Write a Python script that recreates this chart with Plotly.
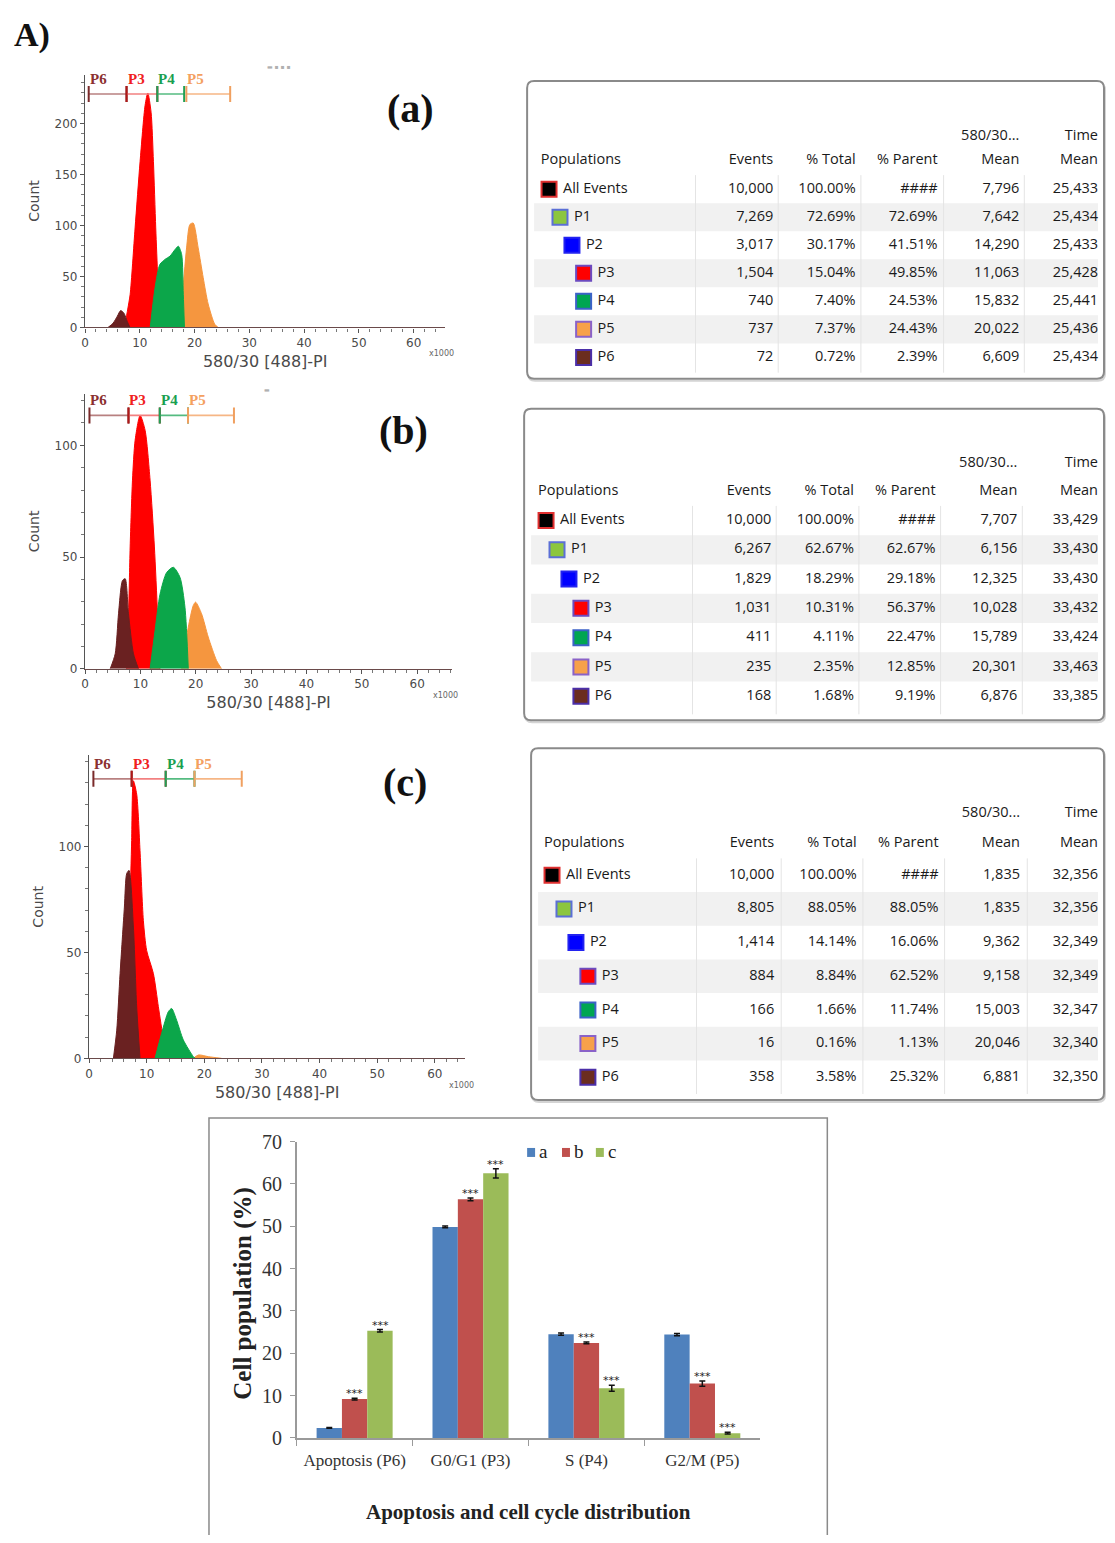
import plotly.graph_objects as go

# Figure size and the measured placement of the figure inside the photographed page
# (vertical: page_y = OY + SY * figure_y ; horizontal: page_x = OX + figure_x).
W, H = 1099, 1527
OX, OY, SY = 10.0, 18.0, 0.9865


def X(px):
    return min(1.0, max(0.0, (px - OX) / W))


def Y(py):
    return min(1.0, max(0.0, 1 - ((py - OY) / SY) / H))


# ------------------------------------------------------------------ data
gate_names = ["P6", "P3", "P4", "P5"]

# histogram (a): PI channel (x1000) vs count, one list pair per gate
a_p6_x = [4.2, 5.1, 5.9, 6.5, 7.1, 7.7, 8.2]
a_p6_y = [0, 4, 11, 16.5, 14, 6, 0]
a_p3_x = [7.2, 7.8, 8.24, 9.14, 10.05, 10.97, 11.46, 12.06, 12.49, 12.91, 13.27, 13.57]
a_p3_y = [0, 18, 32.5, 97.6, 162.6, 218, 230, 211, 162.6, 97.6, 48.8, 0]
a_p4_x = [11.9, 12.79, 13.66, 14.6, 15.52, 16.43, 17.03, 17.64, 17.94, 18.15]
a_p4_y = [0, 39, 61.8, 66.7, 70, 76.4, 79.7, 71.6, 32.5, 0]
a_p5_x = [16.69, 17.64, 18.54, 19.15, 19.75, 20.66, 21.57, 22.48, 23.69, 24.3]
a_p5_y = [0, 26, 78, 101, 102.4, 78, 49, 23, 3, 0]
gates_a = [(0.67, 7.58), (7.58, 13.2), (13.2, 18.1), (18.5, 26.5)]
gate_level_a = 229

# histogram (b)
b_p6_x = [4.55, 5.45, 6.05, 6.77, 7.25, 7.85, 8.75, 9.65]
b_p6_y = [0, 6.7, 24.6, 39.5, 40.3, 24.6, 6.7, 0]
b_p3_x = [7.5, 7.85, 8.15, 8.57, 9.05, 9.95, 10.85, 11.75, 12.53, 13.1, 13.55]
b_p3_y = [0, 22.6, 54.5, 84.4, 102.3, 113.4, 106.7, 84.4, 54.5, 24.6, 0]
b_p4_x = [11.75, 12.65, 13.55, 14.75, 15.95, 17.15, 18.05, 18.65]
b_p4_y = [0, 17.1, 33.4, 43.1, 45.4, 40.9, 27.5, 0]
b_p5_x = [17.45, 18.65, 19.55, 19.97, 21.05, 22.25, 23.75, 24.65]
b_p5_y = [0, 18.6, 28.3, 29.8, 24.6, 14.2, 3.7, 0]
gates_b = [(0.8, 7.85), (7.85, 13.5), (13.5, 18.6), (18.6, 26.9)]
gate_level_b = 113.4

# histogram (c)
c_p6_x = [4.23, 4.81, 5.39, 6.14, 6.54, 6.94, 7.7, 8.27, 8.85]
c_p6_y = [0, 13.3, 40, 71.4, 87.2, 88.7, 62, 24.4, 0]
c_p3_x = [6.8, 7.13, 7.4, 7.69, 8.27, 8.85, 9.43, 10.0, 11.17, 12.03, 12.9, 13.3]
c_p3_y = [0, 71.4, 102.8, 131, 124.7, 98, 65, 50.9, 40, 24.4, 8.7, 0]
c_p4_x = [11.45, 12.6, 13.76, 14.34, 15.2, 16.36, 18.1, 18.4]
c_p4_y = [0, 11.8, 22, 23.5, 18, 8.7, 0.8, 0]
c_p5_x = [18.1, 19.0, 20.7, 23.0]
c_p5_y = [0, 1.6, 0.8, 0]
gates_c = [(0.76, 7.4), (7.4, 13.3), (13.3, 18.3), (18.3, 26.5)]
gate_level_c = 131.9

# population statistics tables
populations = ["All Events", "P1", "P2", "P3", "P4", "P5", "P6"]
table_headers_1 = ["", "", "", "", "580/30...", "Time"]
table_headers_2 = ["Populations", "Events", "% Total", "% Parent", "Mean", "Mean"]

events_a = ["10,000", "7,269", "3,017", "1,504", "740", "737", "72"]
total_a = ["100.00%", "72.69%", "30.17%", "15.04%", "7.40%", "7.37%", "0.72%"]
parent_a = ["####", "72.69%", "41.51%", "49.85%", "24.53%", "24.43%", "2.39%"]
mean_a = ["7,796", "7,642", "14,290", "11,063", "15,832", "20,022", "6,609"]
time_a = ["25,433", "25,434", "25,433", "25,428", "25,441", "25,436", "25,434"]

events_b = ["10,000", "6,267", "1,829", "1,031", "411", "235", "168"]
total_b = ["100.00%", "62.67%", "18.29%", "10.31%", "4.11%", "2.35%", "1.68%"]
parent_b = ["####", "62.67%", "29.18%", "56.37%", "22.47%", "12.85%", "9.19%"]
mean_b = ["7,707", "6,156", "12,325", "10,028", "15,789", "20,301", "6,876"]
time_b = ["33,429", "33,430", "33,430", "33,432", "33,424", "33,463", "33,385"]

events_c = ["10,000", "8,805", "1,414", "884", "166", "16", "358"]
total_c = ["100.00%", "88.05%", "14.14%", "8.84%", "1.66%", "0.16%", "3.58%"]
parent_c = ["####", "88.05%", "16.06%", "62.52%", "11.74%", "1.13%", "25.32%"]
mean_c = ["1,835", "1,835", "9,362", "9,158", "15,003", "20,046", "6,881"]
time_c = ["32,356", "32,356", "32,349", "32,349", "32,347", "32,340", "32,350"]

# bar chart
categories = ["Apoptosis (P6)", "G0/G1 (P3)", "S (P4)", "G2/M (P5)"]
series_names = ["a", "b", "c"]
a_vals = [2.39, 49.85, 24.53, 24.43]
b_vals = [9.19, 56.37, 22.47, 12.85]
c_vals = [25.32, 62.52, 11.74, 1.13]
a_err = [0.1, 0.2, 0.25, 0.25]
b_err = [0.2, 0.3, 0.2, 0.6]
c_err = [0.3, 1.1, 0.7, 0.2]
b_sig = ["***", "***", "***", "***"]
c_sig = ["***", "***", "***", "***"]

# ------------------------------------------------------------------ styles
hist_fill = {"P6": "#6A2121", "P3": "#FF0000", "P4": "#0CA64A", "P5": "#F5963F"}
gate_line = {"P6": "#B88080", "P3": "#F28080", "P4": "#55BB80", "P5": "#F6B685"}
gate_mark = {"P6": "#7A2A2A", "P3": "#B01818", "P4": "#20A055", "P5": "#F0A060"}
gate_text = {"P6": "#8B3030", "P3": "#F02020", "P4": "#1AA050", "P5": "#F4A060"}
draw_order = ["P5", "P3", "P4", "P6"]

swatch_fill = ["#000000", "#8CC63F", "#0000FF", "#FF0000", "#00A651", "#F7A14A", "#6B2D1F"]
swatch_line = ["#E03030", "#5B6FD6", "#2323F0", "#6C4BC0", "#3C62C8", "#8A62C8", "#4B2FA8"]
indent = [0, 1, 2, 3, 3, 3, 3]
bar_colors = ["#4F81BD", "#C0504D", "#9BBB59"]

SANS = "DejaVu Sans"
SERIF = "Liberation Serif"
TFONT = "Open Sans"

fig = go.Figure()
shapes = []
annotations = []

# ------------------------------------------------------------------ histograms
hist_data = {
    1: {"P6": (a_p6_x, a_p6_y), "P3": (a_p3_x, a_p3_y), "P4": (a_p4_x, a_p4_y), "P5": (a_p5_x, a_p5_y)},
    2: {"P6": (b_p6_x, b_p6_y), "P3": (b_p3_x, b_p3_y), "P4": (b_p4_x, b_p4_y), "P5": (b_p5_x, b_p5_y)},
    3: {"P6": (c_p6_x, c_p6_y), "P3": (c_p3_x, c_p3_y), "P4": (c_p4_x, c_p4_y), "P5": (c_p5_x, c_p5_y)},
}
hist_gates = {1: (gates_a, gate_level_a), 2: (gates_b, gate_level_b), 3: (gates_c, gate_level_c)}
hist_geom = {
    1: dict(xdom=(83.3, 445), ydom=(73.7, 326.7), xr=65.8, yr=248, lab="(a)", labpos=(410, 108),
            k=(441, 353)),
    2: dict(xdom=(83.3, 451.7), ydom=(393.3, 668.3), xr=66.3, yr=123, lab="(b)", labpos=(403, 430),
            k=(445, 695)),
    3: dict(xdom=(87.3, 465), ydom=(755, 1058.3), xr=65.3, yr=143, lab="(c)", labpos=(404, 782),
            k=(461, 1085)),
}

layout_axes = {}
for n in (1, 2, 3):
    xn = "x" if n == 1 else f"x{n}"
    yn = "y" if n == 1 else f"y{n}"
    g = hist_geom[n]
    for pop in draw_order:
        xs, ys = hist_data[n][pop]
        fig.add_trace(go.Scatter(
            x=xs, y=ys, mode="lines", fill="tozeroy", fillcolor=hist_fill[pop],
            line=dict(color=hist_fill[pop], width=1, shape="spline", smoothing=0.7),
            xaxis=xn, yaxis=yn, showlegend=False, hoverinfo="skip", name=pop))
    gates, level = hist_gates[n]
    for name, (s, e) in zip(gate_names, gates):
        shapes.append(dict(type="line", xref=xn, yref=yn, x0=s, x1=e, y0=level, y1=level,
                           line=dict(color=gate_line[name], width=1.6)))
        for bnd in (s, e):
            shapes.append(dict(type="line", xref=xn, yref=yn, x0=bnd, x1=bnd,
                               ysizemode="pixel", yanchor=level, y0=-8, y1=8,
                               line=dict(color=gate_mark[name], width=2)))
        annotations.append(dict(xref=xn, yref=yn, x=s, y=level, xanchor="left", yanchor="bottom",
                                yshift=5, xshift=-1, showarrow=False,
                                text=f"<b>{name}</b>",
                                font=dict(family=SERIF, size=15, color=gate_text[name])))
    tick_font = dict(family=SANS, size=12, color="#4a4a4a")
    layout_axes["xaxis" if n == 1 else f"xaxis{n}"] = dict(
        domain=[X(g["xdom"][0]), X(g["xdom"][1])], range=[0, g["xr"]], anchor=yn,
        showline=True, linecolor="#6a4a4a", linewidth=1.3, ticks="outside", ticklen=4,
        tickcolor="#555", tickwidth=1.2, dtick=10, tick0=0,
        minor=dict(dtick=2, ticklen=3, ticks="outside", tickcolor="#777", showgrid=False),
        showgrid=False, zeroline=False, tickfont=tick_font, fixedrange=True,
        title=dict(text="580/30 [488]-PI", font=dict(family=SANS, size=16, color="#4a4a4a"), standoff=6))
    layout_axes["yaxis" if n == 1 else f"yaxis{n}"] = dict(
        domain=[Y(g["ydom"][1]), Y(g["ydom"][0])], range=[0, g["yr"]], anchor=xn,
        showline=True, linecolor="#555", linewidth=1.3, ticks="outside", ticklen=4,
        tickcolor="#555", tickwidth=1.2, dtick=50, tick0=0,
        minor=dict(dtick=10, ticklen=3, ticks="outside", tickcolor="#777", showgrid=False),
        showgrid=False, zeroline=False, tickfont=tick_font, fixedrange=True,
        title=dict(text="Count", font=dict(family=SANS, size=14, color="#4a4a4a"), standoff=11))
    annotations.append(dict(xref="paper", yref="paper", x=X(g["labpos"][0]), y=Y(g["labpos"][1]),
                            text=f"<b>{g['lab']}</b>", showarrow=False, xanchor="center", yanchor="middle",
                            font=dict(family=SERIF, size=40, color="#111")))
    annotations.append(dict(xref="paper", yref="paper", x=X(g["k"][0]), y=Y(g["k"][1]),
                            text="x1000", showarrow=False, xanchor="center", yanchor="middle",
                            font=dict(family=SANS, size=8, color="#666")))

# ------------------------------------------------------------------ tables
TR = OX + W - 3  # right border of the tables
tables = [
    dict(cols=[events_a, total_a, parent_a, mean_a, time_a],
         L=527, T=80, R=TR, B=378, h1=135, h2=160, r0=188.3, pitch=28.07, popx=540.7,
         swx=[549, 560, 572, 583.7], colx=[774, 856.7, 939, 1021, 1100],
         seps=[696, 779, 862, 945, 1026]),
    dict(cols=[events_b, total_b, parent_b, mean_b, time_b],
         L=524, T=408, R=TR, B=720, h1=463, h2=491, r0=520, pitch=29.3, popx=538,
         swx=[546, 557, 569, 581], colx=[772, 855, 937, 1019, 1100],
         seps=[693, 777, 860, 942, 1024]),
    dict(cols=[events_c, total_c, parent_c, mean_c, time_c],
         L=531, T=748, R=TR, B=1100, h1=813, h2=843, r0=875, pitch=33.7, popx=544,
         swx=[552, 564, 576, 588], colx=[775, 857.7, 940, 1021.7, 1100],
         seps=[697, 782, 864, 946, 1029]),
]

# table overlay axis works in reference-pixel units
T_X0, T_X1, T_Y0, T_Y1 = 520, OX + W, 75, 1105


def rounded(L, T, R, B, r):
    return (f"M {L + r},{T} L {R - r},{T} Q {R},{T} {R},{T + r} L {R},{B - r} "
            f"Q {R},{B} {R - r},{B} L {L + r},{B} Q {L},{B} {L},{B - r} L {L},{T + r} "
            f"Q {L},{T} {L + r},{T} Z")


tfont = dict(family=TFONT, size=14.5, color="#1a1a1a")
for t in tables:
    L, T, R, B = t["L"], t["T"], t["R"], t["B"]
    shapes.append(dict(type="path", xref="x5", yref="y5", path=rounded(L + 1, T + 2, R + 1, B + 2, 7),
                       line=dict(color="#d4d4d4", width=2), fillcolor="#ffffff", layer="below"))
    shapes.append(dict(type="path", xref="x5", yref="y5", path=rounded(L, T, R, B, 7),
                       line=dict(color="#8a8a8a", width=2), fillcolor="#ffffff", layer="below"))
    rows = [t["r0"] + i * t["pitch"] for i in range(len(populations))]
    for i in (1, 3, 5):
        shapes.append(dict(type="rect", xref="x5", yref="y5", x0=L + 7, x1=R - 6,
                           y0=rows[i] - t["pitch"] / 2, y1=rows[i] + t["pitch"] / 2,
                           line=dict(width=0), fillcolor="#f1f1f1", layer="below"))
    for sx in t["seps"]:
        shapes.append(dict(type="line", xref="x5", yref="y5", x0=sx, x1=sx,
                           y0=rows[0] - t["pitch"] / 2, y1=B - 6,
                           line=dict(color="#e4e4e4", width=1), layer="below"))
    # headers
    fig.add_trace(go.Scatter(x=[t["popx"]], y=[t["h2"]], mode="text", text=[table_headers_2[0]],
                             textposition="middle right", textfont=tfont, xaxis="x5", yaxis="y5",
                             showlegend=False, hoverinfo="skip", cliponaxis=False))
    fig.add_trace(go.Scatter(x=t["colx"], y=[t["h2"]] * 5, mode="text", text=table_headers_2[1:],
                             textposition="middle left", textfont=tfont, xaxis="x5", yaxis="y5",
                             showlegend=False, hoverinfo="skip", cliponaxis=False))
    fig.add_trace(go.Scatter(x=t["colx"][3:], y=[t["h1"]] * 2, mode="text", text=table_headers_1[4:],
                             textposition="middle left", textfont=tfont, xaxis="x5", yaxis="y5",
                             showlegend=False, hoverinfo="skip", cliponaxis=False))
    # swatches + population names
    sx = [t["swx"][lv] for lv in indent]
    fig.add_trace(go.Scatter(x=sx, y=rows, mode="markers",
                             marker=dict(symbol="square", size=15, color=swatch_fill,
                                         line=dict(color=swatch_line, width=2)),
                             xaxis="x5", yaxis="y5", showlegend=False, hoverinfo="skip", cliponaxis=False))
    fig.add_trace(go.Scatter(x=[v + 14 for v in sx], y=rows, mode="text", text=populations,
                             textposition="middle right", textfont=tfont, xaxis="x5", yaxis="y5",
                             showlegend=False, hoverinfo="skip", cliponaxis=False))
    for cx, vals in zip(t["colx"], t["cols"]):
        fig.add_trace(go.Scatter(x=[cx] * len(vals), y=rows, mode="text", text=vals,
                                 textposition="middle left", textfont=tfont, xaxis="x5", yaxis="y5",
                                 showlegend=False, hoverinfo="skip", cliponaxis=False))

layout_axes["xaxis5"] = dict(domain=[X(T_X0), X(T_X1)], range=[T_X0, T_X1], visible=False,
                             fixedrange=True, anchor="y5")
layout_axes["yaxis5"] = dict(domain=[Y(T_Y1), Y(T_Y0)], range=[T_Y1, T_Y0], visible=False,
                             fixedrange=True, anchor="x5")

# ------------------------------------------------------------------ bar chart
bar_x0, bar_x1 = 295.7, 761
bargap = 0.344
for name, vals, errs, col in zip(series_names, [a_vals, b_vals, c_vals], [a_err, b_err, c_err], bar_colors):
    fig.add_trace(go.Bar(x=categories, y=vals, name=name, marker=dict(color=col, line=dict(width=0)),
                         error_y=dict(type="data", array=errs, color="#111", thickness=1.5, width=3),
                         xaxis="x4", yaxis="y4", hoverinfo="skip", showlegend=False))

bar_px = (bar_x1 - bar_x0) / len(categories) * (1 - bargap) / 3
for shift, vals, errs, sig in ((0, b_vals, b_err, b_sig), (bar_px, c_vals, c_err, c_sig)):
    for cat, v, e, s in zip(categories, vals, errs, sig):
        annotations.append(dict(xref="x4", yref="y4", x=cat, y=v + e, xshift=shift, yshift=-4,
                                text=s, showarrow=False, xanchor="center", yanchor="bottom",
                                font=dict(family=SANS, size=11, color="#222")))

# compact key (a / b / c) as in the original figure
key_swatch_x = [527, 562, 596]
key_y = 1152
for name, col, kx in zip(series_names, bar_colors, key_swatch_x):
    shapes.append(dict(type="rect", xref="paper", yref="paper", x0=X(kx), x1=X(kx + 8),
                       y0=Y(key_y + 5), y1=Y(key_y - 4), line=dict(width=0), fillcolor=col))
    annotations.append(dict(xref="paper", yref="paper", x=X(kx + 10), y=Y(key_y), text=name,
                            showarrow=False, xanchor="left", yanchor="middle",
                            font=dict(family=SERIF, size=19, color="#222")))

layout_axes["xaxis4"] = dict(domain=[X(bar_x0), X(bar_x1)], anchor="y4", type="category",
                             categoryorder="array", categoryarray=categories,
                             showline=True, linecolor="#9a9a9a", linewidth=1.5, ticks="outside",
                             tickson="boundaries", ticklen=6, tickcolor="#9a9a9a", ticklabelstandoff=6,
                             tickangle=0,
                             tickfont=dict(family=SERIF, size=17, color="#333"), showgrid=False,
                             fixedrange=True)
layout_axes["yaxis4"] = dict(domain=[Y(1438.3), Y(1141.7)], anchor="x4", range=[0, 70], dtick=10,
                             showline=True, linecolor="#9a9a9a", linewidth=1.5, ticks="outside",
                             ticklen=5, tickcolor="#9a9a9a", ticklabelstandoff=4,
                             tickfont=dict(family=SERIF, size=20, color="#333"), showgrid=False,
                             zeroline=False, fixedrange=True)

shapes.append(dict(type="rect", xref="paper", yref="paper", x0=X(207.7), x1=X(828.3), y0=-0.02,
                   y1=Y(1118), line=dict(color="#8a8a8a", width=1.5), layer="below"))
annotations.append(dict(xref="paper", yref="paper", x=X(528), y=Y(1512),
                        text="<b>Apoptosis and cell cycle distribution</b>", showarrow=False,
                        xanchor="center", yanchor="middle", font=dict(family=SERIF, size=21, color="#222")))
annotations.append(dict(xref="paper", yref="paper", x=X(241.7), y=Y(1293),
                        text="<b>Cell population (%)</b>", showarrow=False, textangle=-90,
                        xanchor="center", yanchor="middle", font=dict(family=SERIF, size=25, color="#222")))

# figure label and faint marks
annotations.append(dict(xref="paper", yref="paper", x=X(9), y=Y(34), text="<b>A)</b>", showarrow=False,
                        xanchor="left", yanchor="middle", font=dict(family=SERIF, size=34, color="#111")))
annotations.append(dict(xref="paper", yref="paper", x=X(278), y=Y(66), text="▬ ▪ ▪ ▪", showarrow=False,
                        xanchor="center", yanchor="middle", font=dict(family=SANS, size=6, color="#b0b0b0")))
annotations.append(dict(xref="paper", yref="paper", x=X(266), y=Y(389), text="▬", showarrow=False,
                        xanchor="center", yanchor="middle", font=dict(family=SANS, size=6, color="#b0b0b0")))

fig.update_layout(
    width=W, height=H, margin=dict(l=0, r=0, t=0, b=0),
    paper_bgcolor="white", plot_bgcolor="rgba(0,0,0,0)",
    barmode="group", bargap=bargap, bargroupgap=0,
    showlegend=False,
    shapes=shapes, annotations=annotations,
    **layout_axes,
)

fig.write_html("out.html")
